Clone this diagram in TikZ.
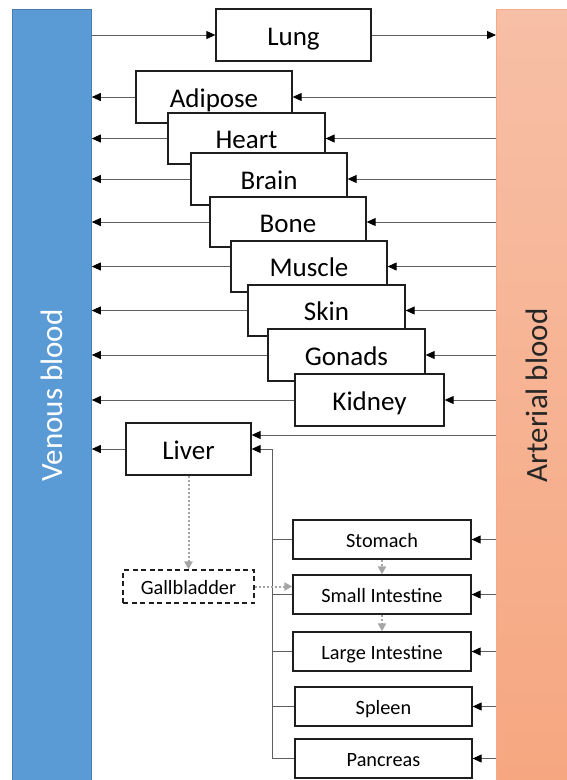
\documentclass[tikz,border=0pt]{standalone}
\usepackage{fontspec}
\setmainfont{Carlito}
\usetikzlibrary{arrows.meta}
\definecolor{venc}{RGB}{91,155,213}
\definecolor{venb}{RGB}{72,125,178}
\definecolor{arttop}{RGB}{247,191,166}
\definecolor{artbot}{RGB}{246,167,128}
\definecolor{artb}{RGB}{245,170,135}
\definecolor{lineg}{RGB}{95,95,95}
\definecolor{dotg}{RGB}{165,165,165}
\definecolor{boxb}{RGB}{30,30,30}
\begin{document}
\begin{tikzpicture}[x=1pt,y=-1pt,
  bar/.style={anchor=north west, inner sep=0pt, line width=0.8pt},
  organ/.style={draw=boxb, line width=1.3pt, fill=white, inner sep=0pt,
    font=\fontsize{27}{32}\selectfont, text height=20pt, text depth=0pt,
    minimum height=52pt},
  gi/.style={draw=boxb, line width=1.3pt, fill=white, inner sep=0pt,
    font=\fontsize{20.3}{24}\selectfont, text height=15pt, text depth=0pt,
    minimum width=178pt, minimum height=39pt},
  conn/.style={draw=lineg, line width=0.9pt,
    -{Triangle[length=9pt,width=8pt,color=black,fill=black]}},
  bile/.style={draw=dotg, line width=2pt, dash pattern=on 2pt off 2pt,
    -{Triangle[length=8pt,width=8pt,color=dotg,fill=dotg]}},
  barlabel/.style={rotate=90, font=\fontsize{31}{37}\selectfont}]
\useasboundingbox (0,0) rectangle (566,780);
% blood bars
\node[bar, draw=venb, fill=venc, minimum width=79pt, minimum height=772pt] (ven) at (12,9) {};
\node[bar, draw=artb, top color=arttop, bottom color=artbot, minimum width=75pt, minimum height=772pt] (art) at (496,9) {};
\node[barlabel, text=white] (venlab) at (ven.center) {Venous blood};
\node[barlabel, text=black!85] (artlab) at (art.center -| 537,0) {Arterial blood};
% organ boxes (later ones on top)
\node[organ, minimum width=155pt] (lung) at (293.5,35) {Lung};
\node[organ, minimum width=156pt] (adipose) at (214,97) {Adipose};
\node[organ, minimum width=157pt, minimum height=51pt] (heart) at (246.5,138.5) {Heart};
\node[organ, minimum width=156pt] (brain) at (269,179) {Brain};
\node[organ, minimum width=156pt, minimum height=50pt] (bone) at (288,222) {Bone};
\node[organ, minimum width=156pt, minimum height=51pt] (muscle) at (309,266.5) {Muscle};
\node[organ, minimum width=157pt, minimum height=51pt] (skin) at (326.5,310.5) {Skin};
\node[organ, minimum width=157pt] (gonads) at (346.5,355) {Gonads};
\node[organ, minimum width=149pt] (kidney) at (369.5,400) {Kidney};
\node[organ, minimum width=125pt] (liver) at (188.5,449) {Liver};
\node[draw=boxb, line width=1.2pt, dash pattern=on 5pt off 3.5pt, fill=white, inner sep=0pt,
  font=\fontsize{20.3}{24}\selectfont, text height=15pt, text depth=0pt,
  minimum width=131pt, minimum height=33pt] (gall) at (188.5,586.5) {Gallbladder};
\node[gi] (stomach) at (382,539.5) {Stomach};
\node[gi] (small) at (382,594.5) {Small Intestine};
\node[gi] (large) at (382,651.5) {Large Intestine};
\node[gi, minimum width=177pt] (spleen) at (383.5,706.5) {Spleen};
\node[gi, minimum width=177pt] (pancreas) at (383.5,758.5) {Pancreas};
% lung circuit
\draw[conn] (ven.east |- lung.west) -- (lung.west);
\draw[conn] (lung.east) -- (lung.east -| art.west);
% systemic organs
\foreach \o in {adipose,heart,brain,bone,muscle,skin,gonads,kidney,liver}{
  \draw[conn] (\o.west) -- (\o.west -| ven.east);
}
\foreach \o in {adipose,heart,brain,bone,muscle,skin,gonads,kidney}{
  \draw[conn] (\o.east -| art.west) -- (\o.east);
}
\draw[conn] ([yshift=14pt]liver.east -| art.west) -- ([yshift=14pt]liver.east);
% GI tract
\foreach \o in {stomach,small,large,spleen,pancreas}{
  \draw[conn] (\o.east -| art.west) -- (\o.east);
}
\coordinate (pv) at (272,449);
\draw[conn] (pv) -- (liver.east);
\draw[draw=lineg, line width=0.9pt] (pv) |- (pancreas.west);
\foreach \o in {stomach,small,large,spleen}{
  \draw[draw=lineg, line width=0.9pt] (\o.west) -- (\o.west -| pv);
}
% bile flow
\draw[bile] (liver.south) -- (gall.north);
\draw[bile] (gall.east) -- (gall.east -| small.west);
\draw[bile] (stomach.south) -- (small.north);
\draw[bile] (small.south) -- (large.north);
\end{tikzpicture}
\end{document}
